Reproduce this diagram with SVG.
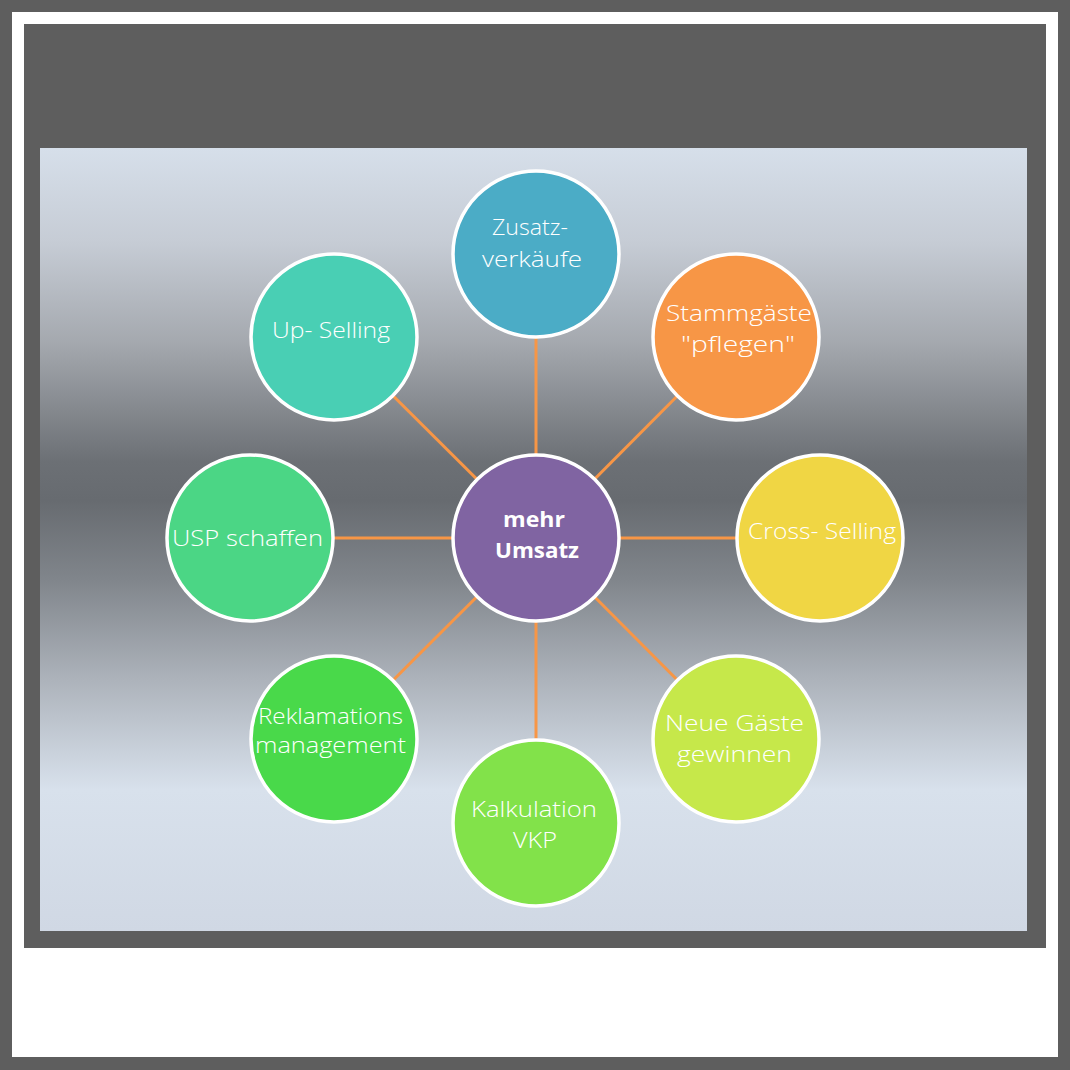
<svg xmlns="http://www.w3.org/2000/svg" width="1070" height="1070" viewBox="0 0 1070 1070">
<defs>
<linearGradient id="bg" x1="0" y1="148" x2="0" y2="931" gradientUnits="userSpaceOnUse">
<stop offset="0" stop-color="#d6dfea"/>
<stop offset="0.12" stop-color="#c6ccd5"/>
<stop offset="0.25" stop-color="#a4a8ae"/>
<stop offset="0.4" stop-color="#6c7075"/>
<stop offset="0.45" stop-color="#676b70"/>
<stop offset="0.55" stop-color="#80858b"/>
<stop offset="0.68" stop-color="#adb3bb"/>
<stop offset="0.82" stop-color="#d8e1ec"/>
<stop offset="1" stop-color="#d0d8e4"/>
</linearGradient>
<style>
.node circle{stroke:#ffffff;stroke-width:3.5}
.node text{font-family:"Century Gothic","URW Gothic","Open Sans","Liberation Sans",sans-serif;font-size:22px;font-weight:300;fill:#ffffff;text-anchor:middle}
.node text.b{font-weight:bold;font-size:21px}
.conn line{stroke:#f79646;stroke-width:3}
</style>
</defs>
<rect x="0" y="0" width="1070" height="1070" fill="#5e5e5e"/>
<rect x="12" y="12" width="1046" height="1045" fill="#ffffff"/>
<rect x="24" y="24" width="1022" height="924" fill="#5e5e5e"/>
<rect x="40" y="148" width="987" height="783" fill="url(#bg)"/>
<g id="connectors" class="conn">
<line x1="536" y1="538" x2="536" y2="254"/>
<line x1="536" y1="538" x2="736" y2="337"/>
<line x1="536" y1="538" x2="820" y2="538"/>
<line x1="536" y1="538" x2="736" y2="739"/>
<line x1="536" y1="538" x2="536" y2="823"/>
<line x1="536" y1="538" x2="334" y2="739"/>
<line x1="536" y1="538" x2="250" y2="538"/>
<line x1="536" y1="538" x2="334" y2="337"/>
</g>
<g id="n-center" class="node"><circle cx="536" cy="538" r="83" fill="#8064a2"/><text class="b" x="534" y="527" textLength="62" lengthAdjust="spacingAndGlyphs">mehr</text><text class="b" x="537" y="558" textLength="84" lengthAdjust="spacingAndGlyphs">Umsatz</text></g>
<g id="n-zusatz" class="node"><circle cx="536" cy="254" r="83" fill="#4bacc6"/><text x="530" y="235" textLength="76" lengthAdjust="spacingAndGlyphs">Zusatz-</text><text x="532" y="267" textLength="100" lengthAdjust="spacingAndGlyphs">verkäufe</text></g>
<g id="n-stamm" class="node"><circle cx="736" cy="337" r="83" fill="#f79646"/><text x="739" y="321" textLength="146" lengthAdjust="spacingAndGlyphs">Stammgäste</text><text x="738" y="352" textLength="114" lengthAdjust="spacingAndGlyphs">"pflegen"</text></g>
<g id="n-cross" class="node"><circle cx="820" cy="538" r="83" fill="#f0d644"/><text x="822" y="539" textLength="148" lengthAdjust="spacingAndGlyphs">Cross- Selling</text></g>
<g id="n-neue" class="node"><circle cx="736" cy="739" r="83" fill="#c6e84a"/><text x="734.5" y="731" textLength="139" lengthAdjust="spacingAndGlyphs">Neue Gäste</text><text x="734.5" y="762" textLength="115" lengthAdjust="spacingAndGlyphs">gewinnen</text></g>
<g id="n-kalk" class="node"><circle cx="536" cy="823" r="83" fill="#82e24a"/><text x="534" y="817" textLength="126" lengthAdjust="spacingAndGlyphs">Kalkulation</text><text x="535" y="848" textLength="44" lengthAdjust="spacingAndGlyphs">VKP</text></g>
<g id="n-rekl" class="node"><circle cx="334" cy="739" r="83" fill="#49d94a"/><text x="330.5" y="724" textLength="145" lengthAdjust="spacingAndGlyphs">Reklamations</text><text x="330.5" y="753" textLength="151" lengthAdjust="spacingAndGlyphs">management</text></g>
<g id="n-usp" class="node"><circle cx="250" cy="538" r="83" fill="#4bd685"/><text x="247.5" y="546" textLength="151" lengthAdjust="spacingAndGlyphs">USP schaffen</text></g>
<g id="n-up" class="node"><circle cx="334" cy="337" r="83" fill="#49cfb4"/><text x="331" y="338" textLength="118" lengthAdjust="spacingAndGlyphs">Up- Selling</text></g>
</svg>
